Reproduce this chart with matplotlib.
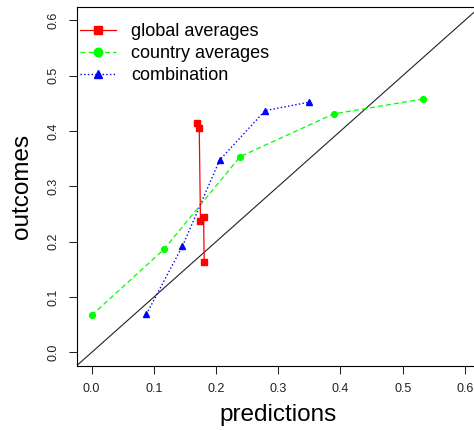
import matplotlib
matplotlib.use("Agg")
from matplotlib import pyplot as plt

plt.rcParams['font.family'] = ['Liberation Sans', 'DejaVu Sans']

# global averages
global_pred = [0.170, 0.173, 0.175, 0.180, 0.181]
global_out = [0.415, 0.405, 0.237, 0.244, 0.163]

# country averages
country_pred = [0.000, 0.116, 0.239, 0.389, 0.533]
country_out = [0.067, 0.186, 0.354, 0.431, 0.458]

# combination
combo_pred = [0.088, 0.146, 0.206, 0.279, 0.349]
combo_out = [0.069, 0.192, 0.348, 0.437, 0.452]

ticks = [0.0, 0.1, 0.2, 0.3, 0.4, 0.5, 0.6]
tick_labels = ["0.0", "0.1", "0.2", "0.3", "0.4", "0.5", "0.6"]

fig = plt.figure(figsize=(4.74, 4.30), dpi=100)
# right edge of the box falls just outside the picture, as in the original
ax = fig.add_axes([0.1618, 0.1495, 0.8504, 0.834])

ax.axline((0, 0), slope=1, color="#222222", lw=0.8, zorder=1)

ax.plot(global_pred, global_out, "-", color="#ff0000", marker="s",
        markersize=3.8, lw=0.9, label="global averages", zorder=3)
ax.plot(country_pred, country_out, "--", color="#00ff00", marker="o",
        markersize=4.2, lw=0.9, dashes=(4, 2.5), label="country averages", zorder=2)
ax.plot(combo_pred, combo_out, ":", color="#0000ff", marker="^",
        markersize=4.4, lw=1.0, label="combination", zorder=2)

ax.set_xlim(-0.024, 0.624)
ax.set_ylim(-0.024, 0.624)

ax.set_xticks(ticks)
ax.set_xticklabels(tick_labels)
ax.set_yticks(ticks)
ax.set_yticklabels(tick_labels, rotation=90, va="center")
ax.tick_params(direction="out", length=5.5, width=0.75, pad=7,
               labelsize=9, colors="#222222")

for s in ax.spines.values():
    s.set_linewidth(0.8)

ax.set_xlabel("predictions", fontsize=17.5, va="center")
ax.xaxis.set_label_coords(0.5, -0.1374)
ax.set_ylabel("outcomes", fontsize=17.5, va="center")
ax.yaxis.set_label_coords(-0.1357, 0.5)

ax.legend(loc="upper left", bbox_to_anchor=(0.0, 0.965), frameon=False,
          fontsize=13, handlelength=1.95, handletextpad=0.85,
          borderpad=0.2, borderaxespad=0.0, labelspacing=0.28,
          markerscale=1.45)

plt.savefig("out.png", dpi=100)
